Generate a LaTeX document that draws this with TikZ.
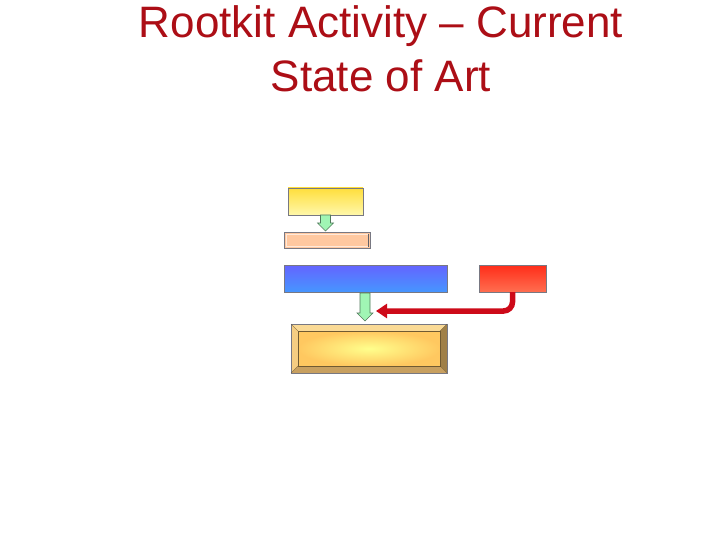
\documentclass[tikz,border=0pt]{standalone}
\usepackage{fontspec}
\setmainfont{Liberation Sans}
\usetikzlibrary{arrows.meta}
\definecolor{titlered}{RGB}{172,14,22}
\definecolor{boxline}{RGB}{120,120,130}
\definecolor{arrowgreen}{RGB}{160,245,180}
\definecolor{arrowgreenline}{RGB}{80,120,90}
\definecolor{peach}{RGB}{255,200,160}
\definecolor{yellowtop}{RGB}{255,222,60}
\definecolor{yellowbot}{RGB}{255,248,170}
\definecolor{bluetop}{RGB}{100,100,255}
\definecolor{bluebot}{RGB}{70,150,255}
\definecolor{redtop}{RGB}{255,45,25}
\definecolor{redbot}{RGB}{255,110,80}
\definecolor{connred}{RGB}{205,10,25}
\definecolor{bevtop}{RGB}{250,218,150}
\definecolor{bevleft}{RGB}{245,205,130}
\definecolor{bevright}{RGB}{160,128,72}
\definecolor{bevbot}{RGB}{200,160,96}
\definecolor{goldin}{RGB}{255,255,140}
\definecolor{goldout}{RGB}{255,200,96}
\tikzset{
  boxbase/.style={draw=boxline, line width=0.8pt, minimum width=#1, inner sep=0pt, outer sep=0pt},
  greenarrow/.style={fill=arrowgreen, draw=arrowgreenline, line width=0.6pt, line join=miter},
  redconn/.style={draw=connred, line width=5.5pt, rounded corners=9pt, -{Triangle[length=11pt,width=14pt]}},
  titletext/.style={text=titlered, font=\fontsize{44}{54}\selectfont, align=center}
}
\begin{document}
\begin{tikzpicture}[x=1pt,y=-1pt]
\useasboundingbox (0,0) rectangle (720,540);
% title
\node[titletext, anchor=north] (title) at (381,2) {Rootkit Activity – Current\\State of Art};
% yellow box
\node[boxbase=75pt, minimum height=27pt, top color=yellowtop, bottom color=yellowbot, anchor=north west] (yellow) at (288,188) {};
% peach box
\node[boxbase=86pt, minimum height=16pt, fill=peach, anchor=north west] (peach) at (284,232) {};
\draw[white!60!peach, line width=0.6pt] (peach.north west) ++(1.8,1.8) rectangle ++(82.4,12.4);
\draw[boxline!80!black, line width=0.8pt] (peach.north east) ++(-1.5,1.5) -- ++(0,13);
% blue box
\node[boxbase=163pt, minimum height=27pt, top color=bluetop, bottom color=bluebot, anchor=north west] (blue) at (284,265) {};
% red box
\node[boxbase=67pt, minimum height=27pt, top color=redtop, bottom color=redbot, anchor=north west] (red) at (479,265) {};
% gold bevel box
\node[draw=boxline, line width=0.6pt, minimum width=156pt, minimum height=49pt, inner sep=0pt, outer sep=0pt, fill=bevtop, anchor=north west] (gold) at (291,324) {};
\fill[bevleft] (gold.north west) -- ++(7,7) -- ++(0,35) -- (gold.south west) -- cycle;
\fill[bevright] (gold.north east) -- ++(-7,7) -- ++(0,35) -- (gold.south east) -- cycle;
\fill[bevbot] (gold.south west) -- ++(7,-7) -- ++(142,0) -- (gold.south east) -- cycle;
\node[minimum width=142pt, minimum height=35pt, inner sep=0pt, outer sep=0pt, inner color=goldin, outer color=goldout, draw=bevright!70!black, line width=0.4pt] (goldin) at (gold.center) {};
\draw[boxline, line width=0.6pt] (gold.north west) rectangle (gold.south east);
\draw[bevright!60!black, line width=0.3pt] (gold.north west) -- (goldin.north west) (gold.north east) -- (goldin.north east) (gold.south west) -- (goldin.south west) (gold.south east) -- (goldin.south east);
% green arrows
\coordinate (g1s) at (yellow.south);
\draw[greenarrow] (g1s) ++(-5,0) -- ++(0,8) -- ++(-3,0) -- ++(8,8) -- ++(8,-8) -- ++(-3,0) -- ++(0,-8) -- cycle;
\coordinate (g2s) at (365,293);
\draw[greenarrow] (g2s) ++(-5,0) -- ++(0,20) -- ++(-3,0) -- ++(8,8) -- ++(8,-8) -- ++(-3,0) -- ++(0,-20) -- cycle;
% red connector
\coordinate (tip) at (376,311);
\draw[redconn] (red.south) |- (tip);
\end{tikzpicture}
\end{document}
